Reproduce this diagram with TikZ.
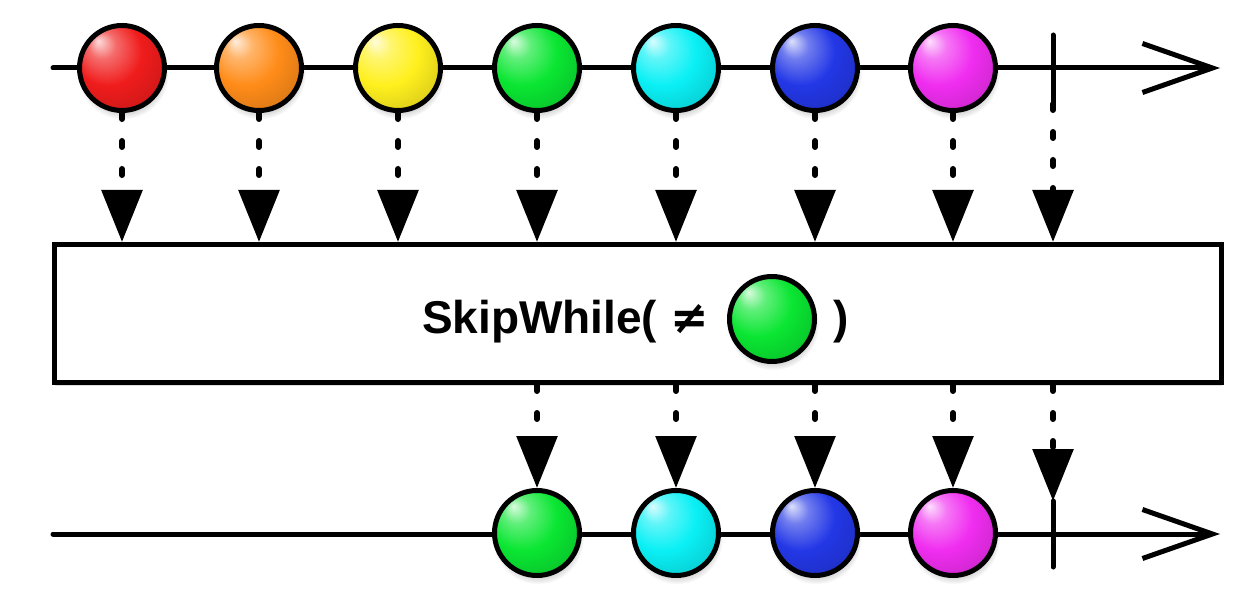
\documentclass[tikz,border=0pt]{standalone}
\usepackage{fontspec}
\setmainfont{Liberation Sans}
\newfontfamily\symfont{DejaVu Sans}
\usetikzlibrary{arrows.meta,positioning,shadows}

\definecolor{mred}{RGB}{240,28,28}
\definecolor{morange}{RGB}{255,140,25}
\definecolor{myellow}{RGB}{255,240,30}
\definecolor{mgreen}{RGB}{10,230,50}
\definecolor{mcyan}{RGB}{10,240,245}
\definecolor{mblue}{RGB}{35,55,230}
\definecolor{mmagenta}{RGB}{240,45,240}
\colorlet{marblecolor}{red}
\pgfdeclareradialshading[marblecolor]{marble}{\pgfpoint{-14bp}{16bp}}{%
  color(0bp)=(marblecolor!15!white);
  color(8bp)=(marblecolor!65!white);
  color(20bp)=(marblecolor);
  color(34bp)=(marblecolor!85!black);
  color(50bp)=(marblecolor!55!black)}

\tikzset{
  marble/.style={circle, draw, line width=2.5pt, minimum size=42.5pt, inner sep=0pt,
    /utils/exec={\colorlet{marblecolor}{#1}}, shade, shading=marble,
    circular drop shadow={shadow xshift=0.5pt, shadow yshift=-2.5pt, opacity=0.3, shadow scale=1.08}},
  timeline/.style={line width=2.5pt, line cap=round,
    -{Straight Barb[length=35pt, width=24.5pt, line cap=butt]}},
  tick/.style={line width=2.5pt, line cap=round},
  flow/.style={line width=3pt, line cap=round, dash pattern=on 3pt off 11pt,
    -{Triangle[length=26pt, width=20pt]}},
  opbox/.style={draw, fill=white, line width=2.5pt, minimum width=583.5pt,
    minimum height=69pt, inner sep=0pt,
    drop shadow={shadow xshift=0pt, shadow yshift=-2pt, opacity=0.25}},
  optext/.style={font=\fontsize{23}{27}\selectfont\bfseries, inner sep=0pt,
    text height=.72em, text depth=0pt, yshift=-3.5pt}
}

\begin{document}
\begin{tikzpicture}[x=0.5pt, y=-0.5pt]
  \useasboundingbox (0,0) rectangle (1252,598);
  % 上方时间线
  \coordinate (inStart) at (53,68);
  \coordinate (inEnd) at (1220,68);
  \draw[timeline] (inStart) -- (inEnd);
  \draw[tick] (1053,35) coordinate (inDoneN) -- (1053,104) coordinate (inDoneS);
  \node[marble=mred] (in1) at (122,68) {};
  \node[marble=morange] (in2) at (259,68) {};
  \node[marble=myellow] (in3) at (398,68) {};
  \node[marble=mgreen] (in4) at (537,68) {};
  \node[marble=mcyan] (in5) at (676,68) {};
  \node[marble=mblue] (in6) at (815,68) {};
  \node[marble=mmagenta] (in7) at (953,68) {};
  % 算子
  \node[opbox] (op) at (638,313.5) {};
  \node[marble=mgreen] (pred) at (772,319) {};
  \node[optext, left=9pt of pred] (predL) {SkipWhile( {\symfont ≠}};
  \node[optext, right=8pt of pred] (predR) {)};
  % 下方时间线
  \coordinate (outStart) at (53,534);
  \coordinate (outEnd) at (1220,534);
  \draw[timeline] (outStart) -- (outEnd);
  \draw[tick] (1053,501) coordinate (outDoneN) -- (1053,567) coordinate (outDoneS);
  \node[marble=mgreen] (out4) at (537,533) {};
  \node[marble=mcyan] (out5) at (676,533) {};
  \node[marble=mblue] (out6) at (815,533) {};
  \node[marble=mmagenta] (out7) at (953,533) {};
  % 输入 -> 算子
  \draw[flow] (in1.south) -- (in1.south |- op.north);
  \draw[flow] (in2.south) -- (in2.south |- op.north);
  \draw[flow] (in3.south) -- (in3.south |- op.north);
  \draw[flow] (in4.south) -- (in4.south |- op.north);
  \draw[flow] (in5.south) -- (in5.south |- op.north);
  \draw[flow] (in6.south) -- (in6.south |- op.north);
  \draw[flow] (in7.south) -- (in7.south |- op.north);
  \draw[flow] (inDoneS) -- (inDoneS |- op.north);
  % 算子 -> 输出
  \draw[flow] (op.south -| out4.north) -- (out4.north);
  \draw[flow] (op.south -| out5.north) -- (out5.north);
  \draw[flow] (op.south -| out6.north) -- (out6.north);
  \draw[flow] (op.south -| out7.north) -- (out7.north);
  \draw[flow] (op.south -| outDoneN) -- (outDoneN);
\end{tikzpicture}
\end{document}
